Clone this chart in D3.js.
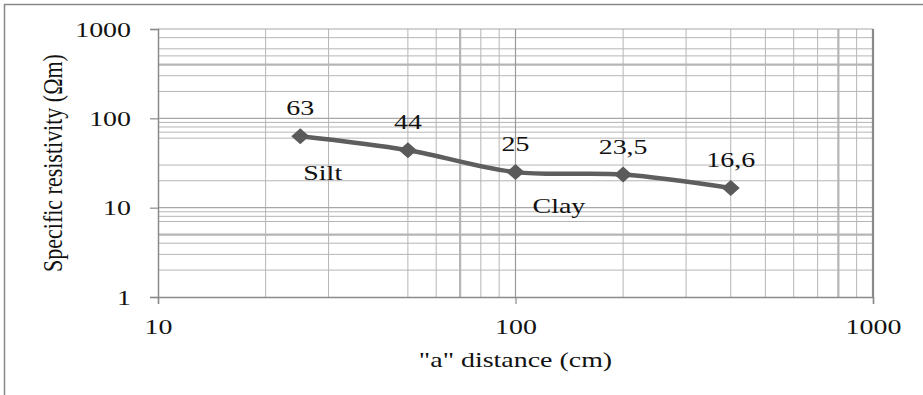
<!DOCTYPE html>
<html>
<head>
<meta charset="utf-8">
<script src="https://cdn.jsdelivr.net/npm/d3@7"></script>
<style>
  html, body { margin: 0; padding: 0; background: #fff; }
  svg { display: block; }
</style>
</head>
<body>
<svg id="chart" width="923" height="395"></svg>
<script>
// measured values (a in cm, rho in ohm-m)
const distances = [25, 50, 100, 200, 400];
const resistivity = [63, 44, 25, 23.5, 16.6];
const pointLabels = ["63", "44", "25", "23,5", "16,6"];

const xMajorTicks = [10, 100, 1000];
const yMajorTicks = [1, 10, 100, 1000];
// minor grid as it shows in the picture (some lines dropped, a few drawn heavier)
const xMinorGrid = [20, 30, 50, 60, 80, 90, 200, 300, 400, 500, 600, 700, 900];
const xHeavyGrid = [70, 800];
const yMinorGrid = [2, 3, 4, 7, 8, 9, 20, 30, 60, 70, 80, 90, 200, 300, 500, 600, 800];
const yHeavyGrid = [5, 400];

const soilNotes = [
  { text: "Silt", x: 25.5, y: 20.5 },
  { text: "Clay", x: 111.6, y: 8.68 },
];

const W = 923, H = 395;
const plot = { left: 158, right: 873, top: 29, bottom: 297 };
const font = "'Liberation Serif', 'Times New Roman', serif";
const fs = 22;
const sx = 1.27; // the source picture is stretched sideways

const svg = d3.select("#chart");

// outer frame
svg.append("rect")
  .attr("x", 4.5).attr("y", 4.5)
  .attr("width", W + 10).attr("height", H + 10)
  .attr("fill", "none")
  .attr("stroke", "#878787")
  .attr("stroke-width", 1.5);

const x = d3.scaleLog().domain([10, 1000]).range([plot.left, plot.right]);
const y = d3.scaleLog().domain([1, 1000]).range([plot.bottom, plot.top]);

const grid = svg.append("g").attr("class", "grid");

grid.selectAll("line.vmin")
  .data(xMinorGrid.concat(xHeavyGrid))
  .join("line")
  .attr("x1", (d) => x(d)).attr("x2", (d) => x(d))
  .attr("y1", plot.top).attr("y2", plot.bottom)
  .attr("stroke", "#b5b5b5")
  .attr("stroke-width", (d) => xHeavyGrid.includes(d) ? 2.2 : 1);

grid.selectAll("line.hmin")
  .data(yMinorGrid.concat(yHeavyGrid))
  .join("line")
  .attr("x1", plot.left).attr("x2", plot.right)
  .attr("y1", (d) => y(d)).attr("y2", (d) => y(d))
  .attr("stroke", "#b5b5b5")
  .attr("stroke-width", (d) => yHeavyGrid.includes(d) ? 2.2 : 1);

grid.selectAll("line.hmaj")
  .data(yMajorTicks.slice(1))
  .join("line")
  .attr("x1", plot.left).attr("x2", plot.right)
  .attr("y1", (d) => y(d)).attr("y2", (d) => y(d))
  .attr("stroke", "#a8a8a8")
  .attr("stroke-width", 1.2);

grid.selectAll("line.vmaj")
  .data(xMajorTicks.slice(1))
  .join("line")
  .attr("x1", (d) => x(d)).attr("x2", (d) => x(d))
  .attr("y1", plot.top).attr("y2", plot.bottom)
  .attr("stroke", (d) => d === 1000 ? "#8a8a8a" : "#9a9a9a")
  .attr("stroke-width", (d) => d === 1000 ? 2.2 : 1.2);

// axes
const yAxis = svg.append("g")
  .attr("transform", `translate(${plot.left},0)`)
  .call(d3.axisLeft(y).tickValues(yMajorTicks).tickFormat(d3.format("d")).tickSize(8));

const xAxis = svg.append("g")
  .attr("transform", `translate(0,${plot.bottom})`)
  .call(d3.axisBottom(x).tickValues(xMajorTicks).tickFormat(d3.format("d")).tickSize(7));

[yAxis, xAxis].forEach((ax) => {
  ax.select(".domain").attr("stroke", "#8a8a8a").attr("stroke-width", 1.5);
  ax.selectAll(".tick line").attr("stroke", "#8a8a8a").attr("stroke-width", 1.2);
  ax.selectAll(".tick text")
    .attr("fill", "#111")
    .style("font-family", font)
    .style("font-size", fs + "px");
});

yAxis.selectAll(".tick text")
  .attr("x", -27 / sx)
  .attr("dy", "0.33em")
  .attr("transform", `scale(${sx},1)`);

xAxis.selectAll(".tick text")
  .attr("y", 37)
  .attr("dy", 0)
  .attr("transform", `scale(${sx},1)`);

// series
const pts = distances.map((d, i) => ({ a: d, r: resistivity[i], label: pointLabels[i] }));

svg.append("path")
  .datum(pts)
  .attr("fill", "none")
  .attr("stroke", "#5e5e5e")
  .attr("stroke-width", 4.5)
  .attr("stroke-linejoin", "round")
  .attr("d", d3.line().x((d) => x(d.a)).y((d) => y(d.r)).curve(d3.curveCatmullRom.alpha(0.5)));

svg.append("g")
  .selectAll("path")
  .data(pts)
  .join("path")
  .attr("transform", (d) => `translate(${x(d.a)},${y(d.r)})`)
  .attr("d", "M0,-8L9,0L0,8L-9,0Z")
  .attr("fill", "#5a5a5a");

// helper for the stretched text
const stretchedText = (px, py, str, anchor) =>
  svg.append("text")
    .attr("transform", `translate(${px},${py}) scale(${sx},1)`)
    .attr("text-anchor", anchor)
    .attr("fill", "#111")
    .style("font-family", font)
    .style("font-size", fs + "px")
    .text(str);

pts.forEach((d) => stretchedText(x(d.a), y(d.r) - 21, d.label, "middle"));
soilNotes.forEach((n) => stretchedText(x(n.x), y(n.y), n.text, "start"));

// axis titles
stretchedText((plot.left + plot.right) / 2, 367, "\"a\" distance (cm)", "middle");

svg.append("text")
  .attr("transform", `translate(62,${(plot.top + plot.bottom) / 2}) scale(${sx},1) rotate(-90)`)
  .attr("text-anchor", "middle")
  .attr("fill", "#111")
  .style("font-family", font)
  .style("font-size", fs + "px")
  .text("Specific resistivity (Ωm)");
</script>
</body>
</html>
